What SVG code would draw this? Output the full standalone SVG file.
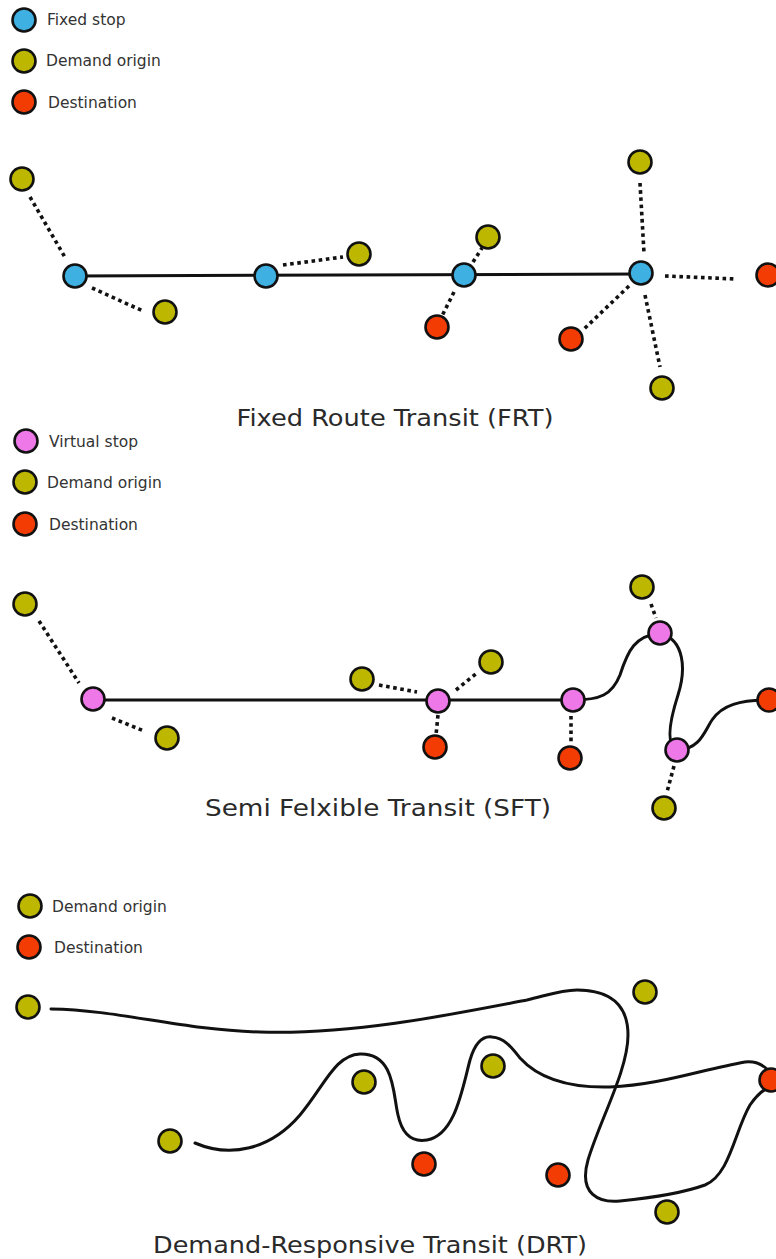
<svg xmlns="http://www.w3.org/2000/svg" width="776" height="1259" viewBox="0 0 776 1259">
<style>
.n{stroke:#111;stroke-width:2.6}
.fs{fill:#3eb0e2}
.or{fill:#bdb700}
.de{fill:#f23c04}
.vs{fill:#ee78e8}
.lg{font-family:"DejaVu Sans",Verdana,sans-serif;font-size:15.5px;fill:#333}
.tt{font-family:"DejaVu Sans",Verdana,sans-serif;font-size:23px;fill:#2a2a2a;text-anchor:middle}
.route{fill:none;stroke:#111;stroke-width:3;stroke-linecap:round}
.walk{fill:none;stroke:#111;stroke-width:3.6;stroke-dasharray:3.6,3.6}
</style>
<rect width="776" height="1259" fill="#fff"/>

<g id="legend-frt">
<circle class="n fs" cx="24" cy="20" r="11.5"/><text class="lg" x="47" y="25">Fixed stop</text>
<circle class="n or" cx="24" cy="61" r="11.5"/><text class="lg" x="46" y="66">Demand origin</text>
<circle class="n de" cx="24" cy="102" r="11.5"/><text class="lg" x="48" y="108">Destination</text>
</g>

<g id="connectors">
<!-- FRT -->
<path class="route" d="M75,276 L641,274"/>
<path class="walk" d="M30,197 L66,259"/>
<path class="walk" d="M92,288 L143,311"/>
<path class="walk" d="M283,265 L343,257"/>
<path class="walk" d="M473,262 L482,248"/>
<path class="walk" d="M454,292 L442,316"/>
<path class="walk" d="M640,183 L644,253"/>
<path class="walk" d="M665,276 L736,279"/>
<path class="walk" d="M629,286 L583,330"/>
<path class="walk" d="M645,295 L660,367"/>
<!-- SFT -->
<path class="route" d="M93,700 L573,700 C600,700 612,695 620,675 C628,650 635,636 660,633 C685,640 686,670 678,695 C670,720 665,745 677,750 C700,750 705,730 712,720 C722,705 740,700 769,700"/>
<path class="walk" d="M39,621 L79,683"/>
<path class="walk" d="M112,718 L144,731"/>
<path class="walk" d="M379,685 L417,692"/>
<path class="walk" d="M456,690 L477,673"/>
<path class="walk" d="M438,715 L436,735"/>
<path class="walk" d="M571,716 L571,743"/>
<path class="walk" d="M651,604 L656,618"/>
<path class="walk" d="M674,766 L667,792"/>
<!-- DRT -->
<path class="route" d="M51,1009 C120,1010 180,1030 260,1032 C350,1035 450,1015 527,1000 C545,996 560,990 577,990 C610,990 628,1005 628,1035 C628,1070 600,1120 588,1160 C578,1195 600,1203 620,1201 C650,1198 680,1194 705,1185 C730,1175 735,1130 750,1105 C757,1095 763,1090 768,1088"/>
<path class="route" d="M195,1143 C230,1158 270,1150 300,1115 C325,1085 335,1055 360,1054 C395,1053 393,1095 398,1115 C403,1138 415,1142 427,1140 C455,1135 462,1090 470,1060 C476,1040 485,1036 492,1037 C505,1038 512,1048 520,1058 C540,1080 570,1088 610,1087 C660,1085 700,1070 745,1062 C755,1061 762,1064 768,1070"/>
</g>

<g id="frt-nodes">
<circle class="n fs" cx="75" cy="276" r="11.5"/>
<circle class="n fs" cx="266" cy="276" r="11.5"/>
<circle class="n fs" cx="464" cy="275" r="11.5"/>
<circle class="n fs" cx="641" cy="273" r="11.5"/>
<circle class="n or" cx="22" cy="179" r="11.5"/>
<circle class="n or" cx="165" cy="312" r="11.5"/>
<circle class="n or" cx="359" cy="254" r="11.5"/>
<circle class="n or" cx="488" cy="237" r="11.5"/>
<circle class="n or" cx="640" cy="162" r="11.5"/>
<circle class="n or" cx="662" cy="388" r="11.5"/>
<circle class="n de" cx="437" cy="327" r="11.5"/>
<circle class="n de" cx="571" cy="339" r="11.5"/>
<circle class="n de" cx="768" cy="275" r="11.5"/>
</g>
<text id="title-frt" class="tt" x="395" y="426" textLength="317" lengthAdjust="spacingAndGlyphs">Fixed Route Transit (FRT)</text>

<g id="legend-sft">
<circle class="n vs" cx="26" cy="441" r="11.5"/><text class="lg" x="49" y="447">Virtual stop</text>
<circle class="n or" cx="25" cy="482" r="11.5"/><text class="lg" x="47" y="488">Demand origin</text>
<circle class="n de" cx="25" cy="524" r="11.5"/><text class="lg" x="49" y="530">Destination</text>
</g>

<g id="sft-nodes">
<circle class="n vs" cx="93" cy="699" r="11.5"/>
<circle class="n vs" cx="438" cy="701" r="11.5"/>
<circle class="n vs" cx="573" cy="700" r="11.5"/>
<circle class="n vs" cx="660" cy="633" r="11.5"/>
<circle class="n vs" cx="677" cy="750" r="11.5"/>
<circle class="n or" cx="25" cy="604" r="11.5"/>
<circle class="n or" cx="167" cy="738" r="11.5"/>
<circle class="n or" cx="362" cy="679" r="11.5"/>
<circle class="n or" cx="491" cy="662" r="11.5"/>
<circle class="n or" cx="642" cy="587" r="11.5"/>
<circle class="n or" cx="664" cy="808" r="11.5"/>
<circle class="n de" cx="435" cy="747" r="11.5"/>
<circle class="n de" cx="570" cy="758" r="11.5"/>
<circle class="n de" cx="769" cy="700" r="11.5"/>
</g>
<text id="title-sft" class="tt" x="378" y="816" textLength="346" lengthAdjust="spacingAndGlyphs">Semi Felxible Transit (SFT)</text>

<g id="legend-drt">
<circle class="n or" cx="30" cy="906" r="11.5"/><text class="lg" x="52" y="912">Demand origin</text>
<circle class="n de" cx="29" cy="947" r="11.5"/><text class="lg" x="54" y="953">Destination</text>
</g>

<g id="drt-nodes">
<circle class="n or" cx="28" cy="1007" r="11.5"/>
<circle class="n or" cx="170" cy="1141" r="11.5"/>
<circle class="n or" cx="364" cy="1082" r="11.5"/>
<circle class="n or" cx="493" cy="1066" r="11.5"/>
<circle class="n or" cx="645" cy="992" r="11.5"/>
<circle class="n or" cx="667" cy="1212" r="11.5"/>
<circle class="n de" cx="424" cy="1164" r="11.5"/>
<circle class="n de" cx="558" cy="1175" r="11.5"/>
<circle class="n de" cx="771" cy="1080" r="11.5"/>
</g>
<text id="title-drt" class="tt" x="370" y="1253" textLength="434" lengthAdjust="spacingAndGlyphs">Demand-Responsive Transit (DRT)</text>
</svg>
